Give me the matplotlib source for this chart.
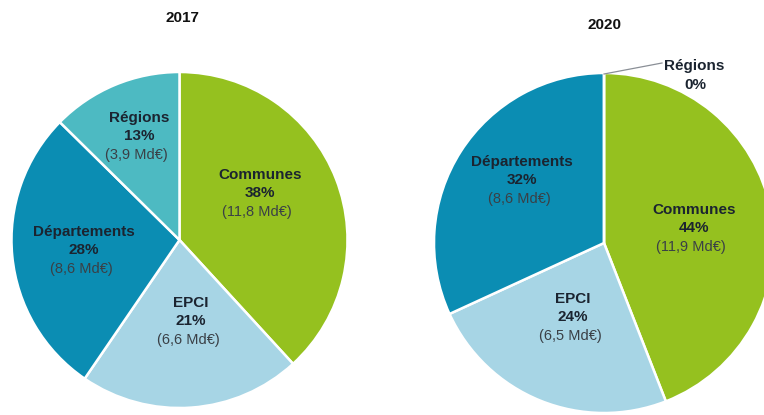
import matplotlib.pyplot as plt

plt.rcParams['font.family'] = ['Liberation Sans', 'DejaVu Sans']

categories = ['Communes', 'EPCI', 'Départements', 'Régions']
colors = ['#95C11F', '#A7D5E5', '#0B8DB3', '#4DBAC2']

years = ['2017', '2020']
amounts_2017 = [11.8, 6.6, 8.6, 3.9]   # Md€
amounts_2020 = [11.9, 6.5, 8.6, 0.0]

W, H = 764, 415


def fmt_amount(v):
    return '({} Md€)'.format(('%.1f' % v).replace('.', ','))


def draw_pie(ax, values, center, radius, label_pos):
    # label_pos: category -> (x, y) in pixel coords from top-left, or None
    ax.pie(values, colors=colors, center=(center[0], H - center[1]), radius=radius,
           startangle=90, counterclock=False, normalize=True,
           wedgeprops=dict(edgecolor='white', linewidth=1.8))
    total = sum(values)
    for name, v in zip(categories, values):
        pos = label_pos.get(name)
        if pos is None:
            continue
        x, y = pos
        pct = round(100 * v / total)
        ax.text(x, H - y, name, ha='center', va='center', fontsize=11,
                fontweight='bold', color='#1b2430')
        ax.text(x, H - y - 18, '%d%%' % pct, ha='center', va='center', fontsize=11,
                fontweight='bold', color='#1b2430')
        ax.text(x - 3, H - y - 37, fmt_amount(v), ha='center', va='center',
                fontsize=10.5, color='#3a4046')


fig = plt.figure(figsize=(W / 100, H / 100), dpi=100)
ax = fig.add_axes([0, 0, 1, 1])

draw_pie(ax, amounts_2017, (179.5, 240), 168, {
    'Communes': (260, 175),
    'EPCI': (191, 303),
    'Départements': (84, 232),
    'Régions': (139, 118),
})
draw_pie(ax, amounts_2020, (604, 243), 170, {
    'Communes': (694, 210),
    'EPCI': (573, 299),
    'Départements': (522, 162),
})

# 2020 régions: zero share, labelled outside with a leader line
reg_2020 = amounts_2020[categories.index('Régions')]
ax.plot([604, 662], [H - 74, H - 63], color='#8a8f96', lw=0.9)
ax.text(694, H - 66, 'Régions', ha='center', va='center', fontsize=11,
        fontweight='bold', color='#1b2430')
ax.text(695, H - 85, '%d%%' % round(100 * reg_2020 / sum(amounts_2020)),
        ha='center', va='center', fontsize=11, fontweight='bold', color='#1b2430')

ax.text(182, H - 18, years[0], ha='center', va='center', fontsize=11,
        fontweight='bold', color='#111111')
ax.text(605, H - 25, years[1], ha='center', va='center', fontsize=11,
        fontweight='bold', color='#111111')

ax.set_xlim(0, W)
ax.set_ylim(0, H)
ax.set_aspect('equal')
ax.axis('off')

fig.savefig('out.png', dpi=100, facecolor='white')
